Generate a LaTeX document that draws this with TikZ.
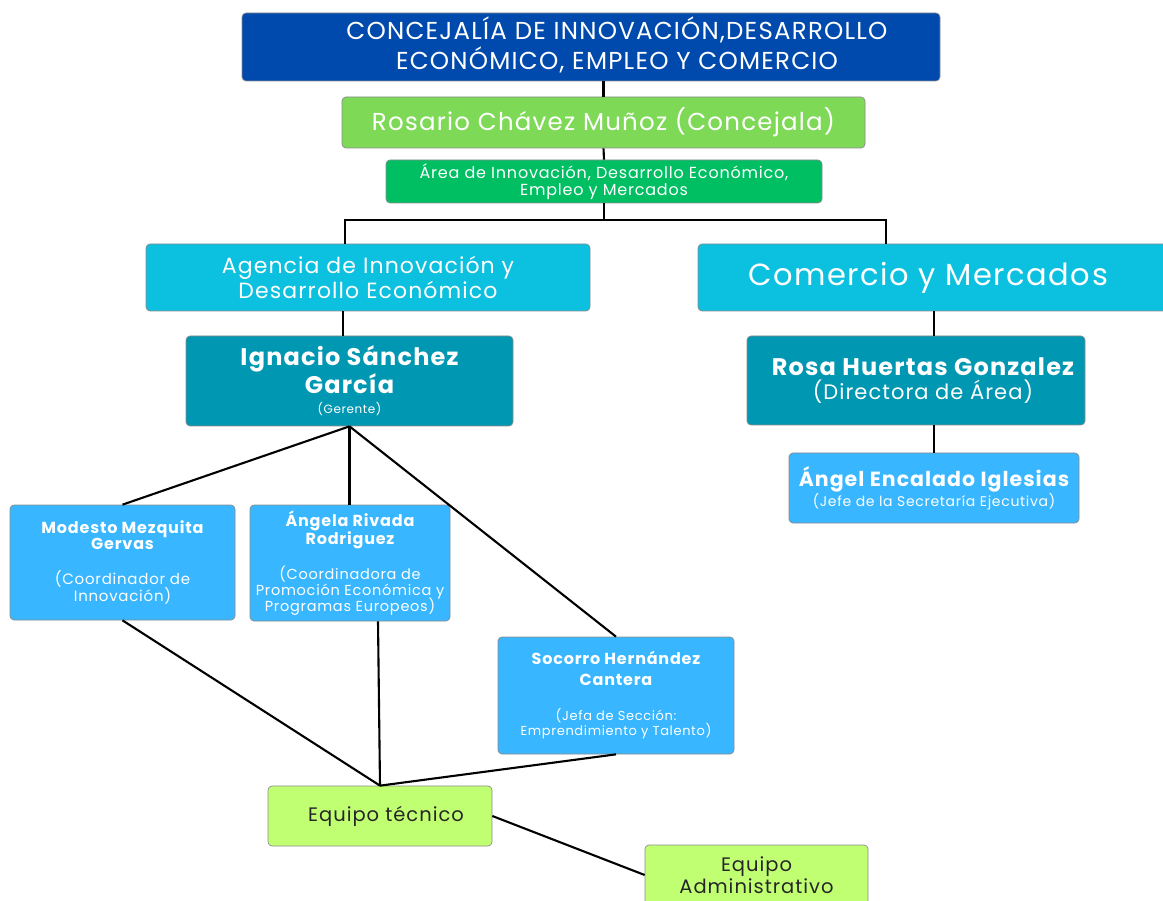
\documentclass[tikz,border=0pt]{standalone}
\usepackage{fontspec}
\setmainfont{Poppins}[LetterSpace=5]
\usetikzlibrary{calc}
\definecolor{cTitle}{HTML}{004AAD}
\definecolor{cRos}{HTML}{7ED957}
\definecolor{cArea}{HTML}{00BF63}
\definecolor{cCyan}{HTML}{0CC0DF}
\definecolor{cTeal}{HTML}{0097B2}
\definecolor{cLight}{HTML}{38B6FF}
\definecolor{cLime}{HTML}{C1FF72}
\newcommand{\fs}[2]{\fontsize{#1pt}{#2pt}\selectfont}
\newcommand{\shiftedtext}[2]{\hspace*{#1pt}\begin{tabular}{@{}c@{}}#2\end{tabular}}
\begin{document}
\begin{tikzpicture}[x=1pt,y=-1pt,
  box/.style={draw=black!45, line width=0.7pt, rounded corners=4pt, inner sep=0pt, align=center, text=white},
  conn/.style={draw=black, line width=2.1pt}]
\useasboundingbox (0,0) rectangle (1163,901);
\clip (0,0) rectangle (1163,901);
\fill[white] (0,0) rectangle (1163,901);

\node[box, fill=cTitle, minimum width=698pt, minimum height=68pt, align=none] (tit) at (591,47)
  {\fs{24.5}{26}\shiftedtext{52}{CONCEJALÍA DE INNOVACIÓN,DESARROLLO\\ECONÓMICO, EMPLEO Y COMERCIO}};
\node[box, fill=cRos, font=\fs{24.5}{26}, minimum width=523pt, minimum height=51pt] (ros) at (603.5,122.5)
  {Rosario Chávez Muñoz (Concejala)};
\node[box, fill=cArea, font=\fs{16}{17}, minimum width=436pt, minimum height=43pt] (area) at (604,181.5)
  {Área de Innovación, Desarrollo Económico,\\Empleo y Mercados};
\node[box, fill=cCyan, font=\fs{22}{25}, minimum width=444pt, minimum height=67pt] (agen) at (368,277.5)
  {Agencia de Innovación y\\Desarrollo Económico};
\node[box, fill=cCyan, minimum width=472pt, minimum height=67pt, align=none] (com) at (934,277.5)
  {\fs{30.5}{34}\hspace*{-12pt}Comercio y Mercados};
\node[box, fill=cTeal, font=\fs{24}{28}\bfseries, minimum width=327pt, minimum height=90pt] (ign) at (349.5,381)
  {Ignacio Sánchez\\García\\[-8pt]\fs{12}{14}\mdseries(Gerente)};
\node[box, fill=cTeal, minimum width=338pt, minimum height=89pt, align=none] (rosa) at (916,380.5)
  {\shiftedtext{14}{\fs{24}{27}\bfseries Rosa Huertas Gonzalez\\\fs{21}{27}(Directora de Área)}};
\node[box, fill=cLight, font=\fs{20.5}{22}\bfseries, minimum width=290pt, minimum height=70pt] (angel) at (934,488)
  {Ángel Encalado Iglesias\\[-2pt]\fs{14}{19}\mdseries(Jefe de la Secretaría Ejecutiva)};
\node[box, fill=cLight, font=\fs{16}{16}\bfseries, minimum width=225pt, minimum height=115pt] (mod) at (122.5,562.5)
  {Modesto Mezquita\\Gervas\\[19pt]\fs{15}{15}\mdseries(Coordinador de\\[-1pt]\fs{15}{15}\mdseries Innovación)};
\node[box, fill=cLight, font=\fs{16}{17}\bfseries, minimum width=200pt, minimum height=116pt] (anga) at (350,563)
  {Ángela Rivada\\Rodriguez\\[16pt]\fs{14.5}{16}\mdseries(Coordinadora de\\[-1pt]\fs{14.5}{16}\mdseries Promoción Económica y\\[-2pt]\fs{14.5}{15}\mdseries Programas Europeos)};
\node[box, fill=cLight, font=\fs{16}{20}\bfseries, minimum width=236pt, minimum height=117pt] (soc) at (616,695.5)
  {Socorro Hernández\\[1pt]Cantera\\[15pt]\fs{13}{14}\mdseries(Jefa de Sección:\\[-5pt]\fs{13}{14}\mdseries Emprendimiento y Talento)};
\node[box, fill=cLime, text=black!85, minimum width=224pt, minimum height=60pt, align=none] (eqt) at (380,816)
  {\fs{19.5}{22}\hspace*{12pt}Equipo técnico};
\node[box, fill=cLime, text=black!85, font=\fs{19.5}{22}, minimum width=223pt, minimum height=60pt] (adm) at (756.5,875)
  {Equipo\\Administrativo};

\coordinate (bar) at (604,220);
% top chain
\draw[conn] (ros.north |- tit.south) -- (ros.north);
\draw[conn] (ros.south) -- (area.north);
\draw[conn] (area.south) -- (bar);
\draw[conn] ($(agen.north)+(-23,0)$) |- (bar) -| ($(com.north)+(-48,0)$);
\draw[conn] ($(agen.south)+(-25,0)$) -- ($(ign.north)+(-6.5,0)$);
\draw[conn] (com.south) -- (com.south |- rosa.north);
\draw[conn] (angel.north |- rosa.south) -- (angel.north);
% Ignacio to children
\draw[conn] (ign.south) -- (mod.north);
\draw[conn] (ign.south) -- (ign.south |- anga.north);
\draw[conn] (ign.south) -- (soc.north);
% children to equipo tecnico
\draw[conn] (mod.south) -- (eqt.north);
\draw[conn] ($(anga.south)+(28,0)$) -- (eqt.north);
\draw[conn] (soc.south) -- (eqt.north);
\draw[conn] (eqt.east) -- (adm.west);
\end{tikzpicture}
\end{document}
